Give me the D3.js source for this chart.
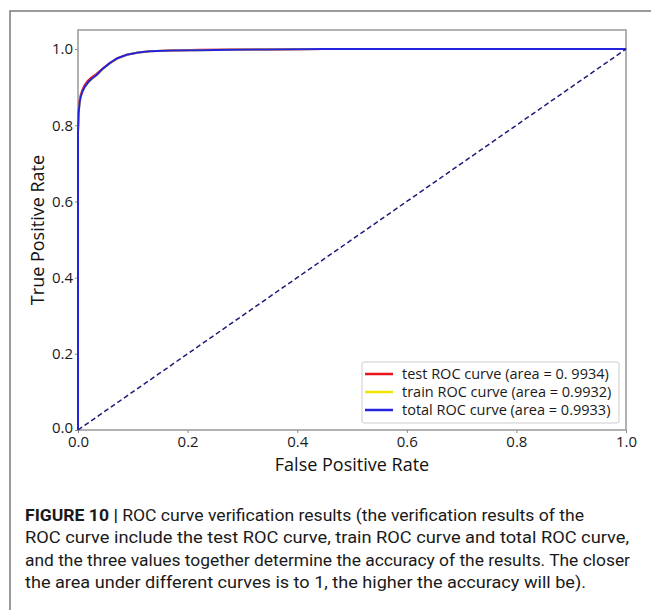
<!DOCTYPE html>
<html>
<head>
<meta charset="utf-8">
<script src="https://cdn.jsdelivr.net/npm/d3@7"></script>
<style>
  body { margin: 0; background: #fff; }
  svg { display: block; }
</style>
</head>
<body>
<svg id="chart"></svg>
<script>
// ROC data
const fprTotal = [0, 0, 0.001, 0.003, 0.005, 0.008, 0.012, 0.018, 0.025, 0.034, 0.045, 0.058, 0.072, 0.089, 0.11, 0.131, 0.17, 0.223, 0.28, 0.345, 0.45, 1.0];
const tprTotal = [0, 0.78, 0.83, 0.86, 0.875, 0.888, 0.9, 0.912, 0.922, 0.932, 0.948, 0.963, 0.976, 0.985, 0.991, 0.994, 0.996, 0.997, 0.998, 0.999, 1.0, 1.0];
const tprTrain = [0, 0.78, 0.829, 0.859, 0.874, 0.887, 0.899, 0.911, 0.921, 0.931, 0.947, 0.962, 0.975, 0.985, 0.991, 0.994, 0.996, 0.997, 0.998, 0.999, 1.0, 1.0];
const tprTest = [0, 0.782, 0.834, 0.865, 0.88, 0.893, 0.905, 0.917, 0.926, 0.935, 0.949, 0.963, 0.976, 0.985, 0.991, 0.994, 0.996, 0.998, 0.999, 0.999, 1.0, 1.0];

const xTicks = [0, 0.2, 0.4, 0.6, 0.8, 1.0];
const yTicks = [0, 0.2, 0.4, 0.6, 0.8, 1.0];

const seriesNames = [
    "test ROC curve (area = 0. 9934)",
    "train ROC curve (area = 0.9932)",
    "total ROC curve (area = 0.9933)"
];
const seriesColors = ["#e8141c", "#f2e400", "#2424e0"];

const captionBold = "FIGURE 10 |";
const captionLines = [
    " ROC curve verification results (the verification results of the",
    "ROC curve include the test ROC curve, train ROC curve and total ROC curve,",
    "and the three values together determine the accuracy of the results. The closer",
    "the area under different curves is to 1, the higher the accuracy will be)."
];

const width = 651;
const height = 610;
const margin = { left: 78, right: 25, top: 30, bottom: 180 };

const svg = d3.select("#chart").attr("width", width).attr("height", height);

// outer figure frame (left + top)
svg.append("path")
    .attr("d", "M10," + height + " L10,11 L" + width + ",11")
    .attr("fill", "none")
    .attr("stroke", "#7a7a7a")
    .attr("stroke-width", 1.5);

const x = d3.scaleLinear().domain([0, 1]).range([margin.left, width - margin.right]);
const y = d3.scaleLinear().domain([0, 1.05]).range([height - margin.bottom, margin.top]);

const tickFont = "'Open Sans', 'Noto Sans', sans-serif";

// x axis
const gx = svg.append("g")
    .attr("transform", "translate(0," + y(0) + ")")
    .call(d3.axisBottom(x).tickValues(xTicks).tickFormat(d3.format(".1f")).tickSize(3).tickPadding(3));
gx.select(".domain").remove();

// y axis
const gy = svg.append("g")
    .attr("transform", "translate(" + x(0) + ",0)")
    .call(d3.axisLeft(y).tickValues(yTicks).tickFormat(d3.format(".1f")).tickSize(3).tickPadding(2));
gy.select(".domain").remove();
gy.selectAll(".tick text").attr("dy", function (d) { return d === 0 ? "0.15em" : "0.32em"; });

svg.selectAll(".tick line").attr("stroke", "#888");
svg.selectAll(".tick text")
    .attr("fill", "#1a1a1a")
    .style("font-family", tickFont)
    .style("font-size", "15px");

// plot frame
svg.append("rect")
    .attr("x", x(0))
    .attr("y", y(1.05))
    .attr("width", x(1) - x(0))
    .attr("height", y(0) - y(1.05))
    .attr("fill", "none")
    .attr("stroke", "#999")
    .attr("stroke-width", 1.5);

// axis titles
svg.append("text")
    .attr("x", (x(0) + x(1)) / 2)
    .attr("y", y(0) + 41)
    .attr("text-anchor", "middle")
    .style("font-family", tickFont)
    .style("font-size", "18px")
    .attr("fill", "#111")
    .text("False Positive Rate");

svg.append("text")
    .attr("transform", "translate(44," + ((y(0) + y(1.05)) / 2) + ") rotate(-90)")
    .attr("text-anchor", "middle")
    .style("font-family", tickFont)
    .style("font-size", "18px")
    .attr("fill", "#111")
    .text("True Positive Rate");

// curves
const line = d3.line()
    .x(function (d) { return x(d[0]); })
    .y(function (d) { return y(d[1]); });

const curves = [
    d3.zip(fprTotal, tprTest),
    d3.zip(fprTotal, tprTrain),
    d3.zip(fprTotal, tprTotal)
];

svg.append("g").attr("class", "curves")
    .selectAll("path")
    .data(curves)
    .enter()
    .append("path")
    .attr("fill", "none")
    .attr("stroke", function (d, i) { return seriesColors[i]; })
    .attr("stroke-width", 2)
    .attr("stroke-linejoin", "round")
    .attr("d", line);

// chance diagonal
svg.append("path")
    .attr("fill", "none")
    .attr("stroke", "#1c1c7a")
    .attr("stroke-width", 1.5)
    .attr("stroke-dasharray", "5,3")
    .attr("d", line([[0, 0], [1, 1]]));

// legend
const legend = svg.append("g").attr("transform", "translate(362,362)");
legend.append("rect")
    .attr("width", 257)
    .attr("height", 61)
    .attr("rx", 2)
    .attr("fill", "#fff")
    .attr("stroke", "#ccc")
    .attr("stroke-width", 1);

const item = legend.selectAll("g.item")
    .data(seriesNames)
    .enter()
    .append("g")
    .attr("class", "item")
    .attr("transform", function (d, i) { return "translate(0," + (12 + i * 18) + ")"; });

item.append("line")
    .attr("x1", 3).attr("x2", 31)
    .attr("stroke", function (d, i) { return seriesColors[i]; })
    .attr("stroke-width", 2.5);

item.append("text")
    .attr("x", 40)
    .attr("dy", "0.35em")
    .style("font-family", tickFont)
    .style("font-size", "14.5px")
    .attr("fill", "#1a1a1a")
    .text(function (d) { return d; });

// caption
const capFont = "Roboto, 'Liberation Sans', sans-serif";
const capEnds = [584, 629, 630, 586];
const capBase = [521, 543, 566, 588];

captionLines.forEach(function (txt, i) {
    const t = svg.append("text")
        .attr("x", 25)
        .attr("y", capBase[i])
        .style("font-family", capFont)
        .style("font-size", "16px")
        .attr("fill", "#1a1a1a")
        .attr("textLength", capEnds[i] - 25)
        .attr("lengthAdjust", "spacingAndGlyphs");
    if (i === 0) {
        t.append("tspan").style("font-weight", "bold").text(captionBold);
    }
    t.append("tspan").style("font-weight", "400").text(txt);
});
</script>
</body>
</html>
